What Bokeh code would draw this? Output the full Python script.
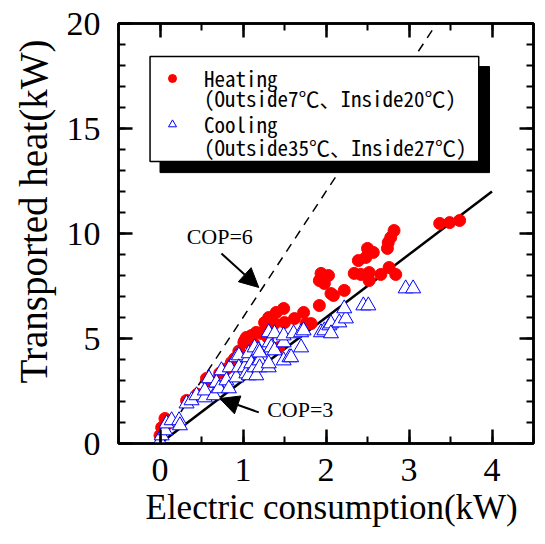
from bokeh.plotting import figure
from bokeh.models import (Range1d, SingleIntervalTicker, LinearAxis, Arrow, NormalHead,
                          Label, BoxAnnotation, Legend, LegendItem, Title, CustomJSTickFormatter)
from bokeh.embed import file_html
from bokeh.resources import INLINE

# ---- data ----
heat_x = [0.00, 0.02, 0.06, 0.08, 0.32, 0.45, 0.56, 0.62, 0.72, 0.86, 0.90, 0.95, 1.01, 1.02,
          1.04, 1.10, 1.16, 1.22, 1.26, 1.26, 1.31, 1.38, 1.40, 1.43, 1.49, 1.50, 1.62, 1.73,
          1.76, 1.82, 1.92, 1.92, 1.94, 1.98, 2.03, 2.06, 2.09, 2.22, 2.34, 2.39, 2.42, 2.48,
          2.50, 2.52, 2.52, 2.57, 2.66, 2.74, 2.75, 2.76, 2.78, 2.82, 2.84, 3.37, 3.49, 3.61,
          0.80, 1.13, 1.30]
heat_y = [0.38, 0.76, 1.19, 0.90, 2.05, 2.35, 3.10, 2.95, 3.35, 3.86, 4.05, 4.40, 4.81, 4.90,
          5.05, 5.14, 5.29, 5.24, 5.38, 5.76, 6.00, 5.71, 6.24, 4.57, 6.43, 5.76, 5.95, 6.24,
          5.71, 5.71, 6.57, 7.76, 8.10, 7.62, 8.00, 7.14, 7.05, 7.29, 8.10, 8.71, 8.05, 8.86,
          9.29, 8.14, 7.76, 9.10, 8.05, 9.29, 9.57, 8.38, 9.81, 10.14, 8.05, 10.48, 10.52, 10.62,
          3.55, 4.75, 5.05]

cool_x = [0.00, 0.02, 0.06, 0.08, 0.14, 0.23, 0.24, 0.32, 0.38, 0.44, 0.54, 0.54, 0.59, 0.65,
          0.68, 0.71, 0.74, 0.80, 0.83, 0.84, 0.92, 0.92, 0.95, 0.95, 1.02, 1.04, 1.07, 1.07,
          1.07, 1.10, 1.14, 1.14, 1.16, 1.19, 1.20, 1.20, 1.20, 1.31, 1.31, 1.32, 1.31, 1.34,
          1.38, 1.38, 1.49, 1.49, 1.49, 1.56, 1.58, 1.61, 1.70, 1.70, 1.73, 1.94, 1.98, 2.04,
          2.06, 2.06, 2.16, 2.24, 2.22, 2.45, 2.51, 2.96, 3.05]
cool_y = [0.10, 0.38, 0.62, 0.95, 1.10, 1.10, 0.86, 1.90, 2.05, 2.29, 2.19, 2.52, 3.10, 2.29,
          2.90, 2.62, 3.48, 3.00, 2.62, 3.62, 3.14, 4.10, 4.19, 3.62, 3.62, 3.33, 3.24, 4.10,
          4.29, 3.81, 3.62, 4.57, 3.24, 4.43, 3.95, 3.62, 4.33, 3.62, 3.81, 4.81, 5.29, 4.57,
          4.43, 5.24, 4.81, 5.14, 3.95, 4.10, 4.10, 5.24, 5.29, 4.57, 5.38, 5.29, 5.38, 5.62,
          5.71, 5.24, 5.76, 5.95, 6.43, 6.57, 6.57, 7.38, 7.38]

cop3_x = [0.0, 4.0]
cop3_y = [0.0, 12.0]
cop6_x = [0.25, 3.3333]
cop6_y = [1.5, 20.0]

x_title = "Electric consumption(kW)"
y_title = "Transported heat(kW)"
legend_lines = ["Heating", "(Outside7℃、Inside20℃)", "Cooling", "(Outside35℃、Inside27℃)"]

SERIF = "Liberation Serif"
MONO = "Noto Sans Mono CJK JP"

p = figure(width=537, height=536, output_backend="svg", toolbar_location=None,
           x_range=Range1d(-0.5, 4.5), y_range=Range1d(0, 20),
           min_border_left=116, min_border_right=4, min_border_top=23, min_border_bottom=93)
p.xgrid.visible = False
p.ygrid.visible = False
p.outline_line_color = "black"
p.outline_line_width = 2.5


def style_axis(ax, ticker, show_labels, standoff=17):
    ax.ticker = ticker
    ax.axis_line_width = 2.5
    ax.axis_line_color = "black"
    ax.major_tick_in = 14
    ax.major_tick_out = 0
    ax.minor_tick_in = 7
    ax.minor_tick_out = 0
    ax.major_tick_line_width = 2.5
    ax.minor_tick_line_width = 2
    ax.major_tick_line_color = "black"
    ax.minor_tick_line_color = "black"
    if show_labels:
        ax.major_label_text_font = SERIF
        ax.major_label_text_font_size = "34px"
        ax.major_label_text_color = "black"
        ax.major_label_standoff = standoff
    else:
        ax.formatter = CustomJSTickFormatter(code="return ''")
        ax.major_label_standoff = 0


xa = p.xaxis[0]
ya = p.yaxis[0]
style_axis(xa, SingleIntervalTicker(interval=1, num_minor_ticks=2), True, 15)
style_axis(ya, SingleIntervalTicker(interval=5, num_minor_ticks=5), True, 18)
ax_top = LinearAxis()
ax_right = LinearAxis()
style_axis(ax_top, SingleIntervalTicker(interval=1, num_minor_ticks=2), False)
style_axis(ax_right, SingleIntervalTicker(interval=5, num_minor_ticks=5), False)
p.add_layout(ax_top, "above")
p.add_layout(ax_right, "right")

use_axis_label = True
try:
    xa.axis_label_align = "right"
    ya.axis_label_align = "right"
except Exception:
    use_axis_label = False

if use_axis_label:
    xa.axis_label = x_title
    xa.axis_label_text_font = SERIF
    xa.axis_label_text_font_size = "35px"
    xa.axis_label_text_font_style = "normal"
    xa.axis_label_text_color = "black"
    xa.axis_label_standoff = 0
    ya.axis_label = y_title
    ya.axis_label_text_font = SERIF
    ya.axis_label_text_font_size = "39px"
    ya.axis_label_text_font_style = "normal"
    ya.axis_label_text_color = "black"
    ya.axis_label_standoff = 17
else:
    p.add_layout(Title(text=x_title, align="left", offset=27, text_font=SERIF,
                       text_font_size="35px", text_font_style="normal", text_color="black",
                       standoff=4), "below")
    p.add_layout(Title(text=y_title, align="left", offset=60, text_font=SERIF,
                       text_font_size="39px", text_font_style="normal", text_color="black",
                       standoff=18), "left")

# lines
p.line(cop6_x, cop6_y, line_color="black", line_width=1.5, line_dash="9 7")
p.line(cop3_x, cop3_y, line_color="black", line_width=2.5)

r_heat = p.scatter(heat_x, heat_y, marker="circle", size=12, fill_color="red", line_color="red")
r_cool = p.scatter(cool_x, cool_y, marker="triangle", size=15, fill_color="white",
                   line_color="blue", line_width=1)

# arrows and COP labels
p.add_layout(Arrow(end=NormalHead(size=19, fill_color="black", line_color="black"),
                   x_start=0.74, y_start=9.05, x_end=1.19, y_end=7.43, line_width=2))
p.add_layout(Arrow(end=NormalHead(size=19, fill_color="black", line_color="black"),
                   x_start=1.19, y_start=1.48, x_end=0.72, y_end=2.14, line_width=2))
p.add_layout(Label(x=0.72, y=9.86, text="COP=6", text_font=SERIF, text_font_size="22px",
                   text_color="black", text_align="center", text_baseline="middle"))
p.add_layout(Label(x=1.69, y=1.62, text="COP=3", text_font=SERIF, text_font_size="22px",
                   text_color="black", text_align="center", text_baseline="middle"))

# legend box with shadow
p.add_layout(BoxAnnotation(left=0.0, right=3.97, top=17.95, bottom=12.9,
                           fill_color="black", fill_alpha=1, line_color="black", line_alpha=1))
p.add_layout(BoxAnnotation(left=-0.12, right=3.84, top=18.43, bottom=13.43,
                           fill_color="white", fill_alpha=1, line_color="black",
                           line_alpha=1, line_width=1.5))
leg = Legend(items=[LegendItem(label=legend_lines[0], renderers=[r_heat]),
                    LegendItem(label=legend_lines[2], renderers=[r_cool])],
             location=(44, 304), orientation="vertical",
             label_text_font=MONO, label_text_font_size="21px", label_text_color="black",
             glyph_width=20, glyph_height=20, label_height=20, spacing=16,
             padding=0, margin=0, border_line_color=None, background_fill_alpha=0,
             label_standoff=22)
p.add_layout(leg, "center")
p.add_layout(Label(x=0.53, y=16.43, text=legend_lines[1], text_font=MONO, text_font_size="21px",
                   text_color="black", text_align="left", text_baseline="middle"))
p.add_layout(Label(x=0.53, y=14.14, text=legend_lines[3], text_font=MONO, text_font_size="21px",
                   text_color="black", text_align="left", text_baseline="middle"))

open("out.html", "w").write(file_html(p, INLINE))
